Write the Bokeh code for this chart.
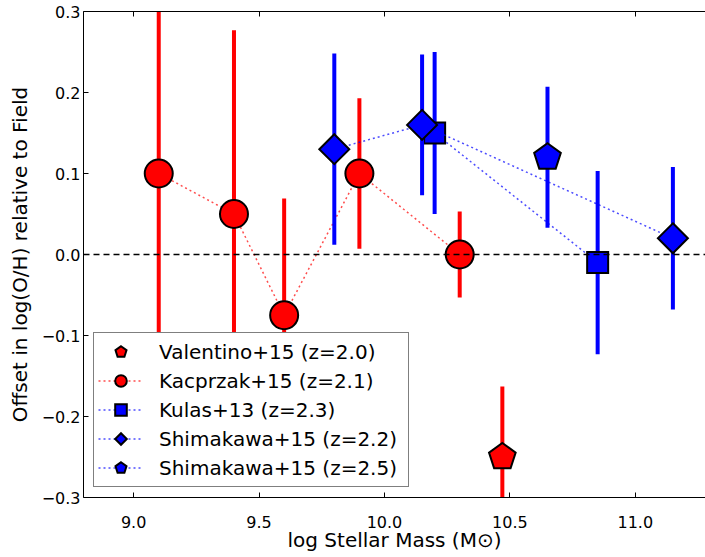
import math
from bokeh.plotting import figure
from bokeh.models import (ColumnDataSource, Range1d, LinearAxis, FixedTicker,
                          CustomJSTickFormatter, Span, Legend, LegendItem)
from bokeh.embed import file_html
from bokeh.resources import INLINE

# ---- data ----
val_x = [10.47]
val_y = [-0.25]
val_err = [0.087]

kac_x = [9.1, 9.4, 9.6, 9.9, 10.3]
kac_y = [0.10, 0.05, -0.075, 0.10, 0.0]
kac_err = [0.25, 0.227, 0.144, 0.093, 0.053]

kul_x = [10.2, 10.85]
kul_y = [0.15, -0.01]
kul_err = [0.10, 0.113]

sh22_x = [9.8, 10.15, 11.15]
sh22_y = [0.13, 0.16, 0.02]
sh22_err = [0.118, 0.087, 0.088]

sh25_x = [10.65]
sh25_y = [0.12]
sh25_err = [0.087]

x_ticks = [9.0, 9.5, 10.0, 10.5, 11.0]
y_ticks = [-0.3, -0.2, -0.1, 0.0, 0.1, 0.2, 0.3]

labels = ["Valentino+15 (z=2.0)", "Kacprzak+15 (z=2.1)", "Kulas+13 (z=2.3)",
          "Shimakawa+15 (z=2.2)", "Shimakawa+15 (z=2.5)"]

RED = "#ff0000"
BLUE = "#0000ff"
FONT = "DejaVu Sans"


def src(x, y, e):
    return ColumnDataSource(dict(x=x, y=y, lo=[a - b for a, b in zip(y, e)],
                                 hi=[a + b for a, b in zip(y, e)]))


p = figure(frame_width=622, frame_height=486, output_backend="svg", toolbar_location=None,
           x_range=Range1d(8.8, 11.28), y_range=Range1d(-0.3, 0.3),
           min_border_left=83, min_border_right=0, min_border_top=11, min_border_bottom=60)
p.background_fill_color = "white"
p.border_fill_color = "white"
p.outline_line_color = None
p.xgrid.visible = False
p.ygrid.visible = False

fmt = CustomJSTickFormatter(code="return tick.toFixed(1).replace('-', '\u2212');")

for ax in (p.xaxis[0], p.yaxis[0]):
    ax.major_tick_in = 5
    ax.major_tick_out = 0
    ax.minor_tick_line_color = None
    ax.axis_line_color = "black"
    ax.axis_line_width = 1
    ax.major_label_text_font = FONT
    ax.major_label_text_font_size = "16px"
    ax.major_label_text_color = "black"
    ax.axis_label_text_font = FONT
    ax.axis_label_text_font_size = "20px"
    ax.axis_label_text_font_style = "normal"
    ax.axis_label_text_color = "black"
    ax.formatter = fmt

p.xaxis[0].ticker = FixedTicker(ticks=x_ticks)
p.yaxis[0].ticker = FixedTicker(ticks=y_ticks)
p.xaxis[0].axis_label = "log Stellar Mass (M\u2299)"
p.yaxis[0].axis_label = "Offset in log(O/H) relative to Field"
p.xaxis[0].major_label_standoff = 18
p.xaxis[0].axis_label_standoff = -3
p.yaxis[0].major_label_standoff = 3
p.yaxis[0].axis_label_standoff = 7

top = LinearAxis(ticker=FixedTicker(ticks=x_ticks), major_tick_in=5, major_tick_out=0,
                 minor_tick_line_color=None, major_label_text_color=None,
                 formatter=CustomJSTickFormatter(code="return '';"),
                 major_label_standoff=0, axis_line_color="black")
p.add_layout(top, "above")

p.add_layout(Span(location=0, dimension="width", line_color="black", line_width=1.5,
                  line_dash="6 4"))

DOT = dict(line_dash="2 3", line_width=1.5, line_alpha=0.7)
MK = dict(line_color="black", line_width=2, line_join="miter")

# Valentino
s = src(val_x, val_y, val_err)
p.segment(x0="x", y0="lo", x1="x", y1="hi", source=s, line_color=RED, line_width=4)
r_val = p.ngon(x="x", y="y", radius=14, radius_units="screen", n=5, angle=0,
               source=s, fill_color=RED, **MK)

# Kacprzak
s = src(kac_x, kac_y, kac_err)
l_kac = p.line(x="x", y="y", source=s, line_color=RED, **DOT)
p.segment(x0="x", y0="lo", x1="x", y1="hi", source=s, line_color=RED, line_width=4)
m_kac = p.scatter(x="x", y="y", source=s, marker="circle", size=28, fill_color=RED, **MK)

# Kulas
s = src(kul_x, kul_y, kul_err)
l_kul = p.line(x="x", y="y", source=s, line_color=BLUE, **DOT)
p.segment(x0="x", y0="lo", x1="x", y1="hi", source=s, line_color=BLUE, line_width=4)
m_kul = p.scatter(x="x", y="y", source=s, marker="square", size=21, fill_color=BLUE, **MK)

# Shimakawa z=2.2
s = src(sh22_x, sh22_y, sh22_err)
l_sh22 = p.line(x="x", y="y", source=s, line_color=BLUE, **DOT)
p.segment(x0="x", y0="lo", x1="x", y1="hi", source=s, line_color=BLUE, line_width=4)
m_sh22 = p.ngon(x="x", y="y", radius=15, radius_units="screen", n=4, angle=0,
                source=s, fill_color=BLUE, **MK)

# Shimakawa z=2.5
s = src(sh25_x, sh25_y, sh25_err)
l_sh25 = p.line(x="x", y="y", source=s, line_color=BLUE, **DOT)
p.segment(x0="x", y0="lo", x1="x", y1="hi", source=s, line_color=BLUE, line_width=4)
r_sh25 = p.ngon(x="x", y="y", radius=14, radius_units="screen", n=5, angle=0,
                source=s, fill_color=BLUE, **MK)

legend = Legend(items=[
    LegendItem(label=labels[0], renderers=[r_val]),
    LegendItem(label=labels[1], renderers=[l_kac, m_kac]),
    LegendItem(label=labels[2], renderers=[l_kul, m_kul]),
    LegendItem(label=labels[3], renderers=[l_sh22, m_sh22]),
    LegendItem(label=labels[4], renderers=[l_sh25, r_sh25]),
], location=(10, 10))
legend.label_text_font = FONT
legend.label_text_font_size = "20px"
legend.label_text_color = "black"
legend.border_line_color = "black"
legend.border_line_width = 1.5
legend.background_fill_color = "white"
legend.background_fill_alpha = 1
legend.padding = 4
legend.spacing = 0
legend.margin = 0
legend.glyph_width = 45
legend.glyph_height = 29
legend.label_height = 29
legend.label_standoff = 16
legend.label_width = 245
p.add_layout(legend, "center")

open("out.html", "w").write(file_html(p, INLINE))
